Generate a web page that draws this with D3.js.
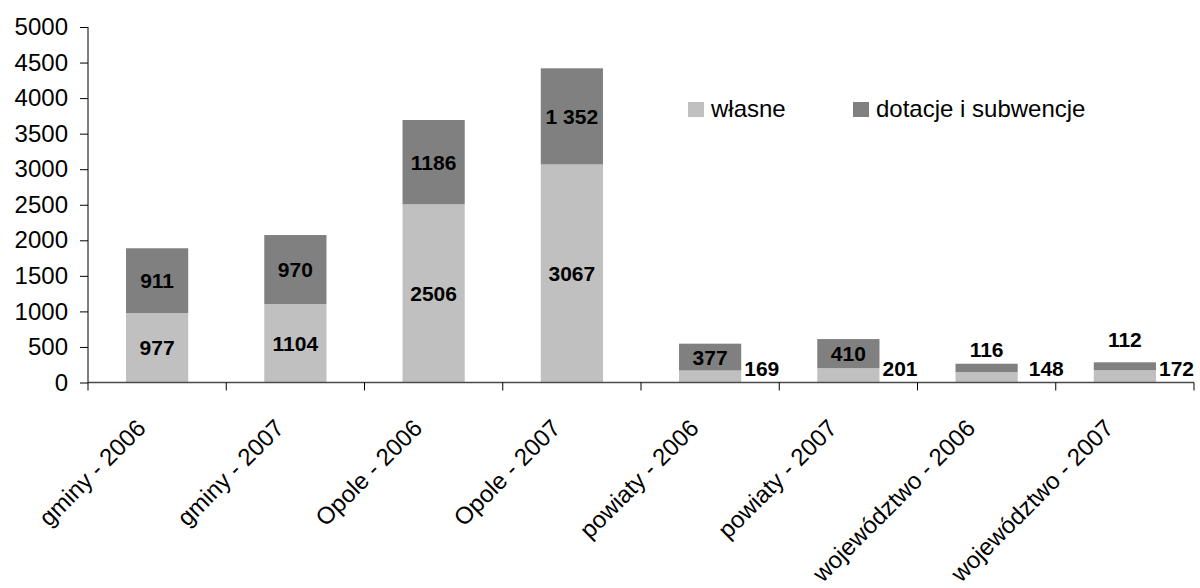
<!DOCTYPE html>
<html>
<head>
<meta charset="utf-8">
<script src="https://cdn.jsdelivr.net/npm/d3@7/dist/d3.min.js"></script>
<style>
  html, body { margin: 0; padding: 0; background: #fff; }
  svg { display: block; font-family: "Liberation Sans", Arial, sans-serif; }
</style>
</head>
<body>
<svg id="chart" width="1200" height="588"></svg>
<script>
// Dochody budżetów JST (mln zł): własne oraz dotacje i subwencje
const categories = [
  "gminy - 2006", "gminy - 2007", "Opole - 2006", "Opole - 2007",
  "powiaty - 2006", "powiaty - 2007", "województwo - 2006", "województwo - 2007"
];
const wlasne = [977, 1104, 2506, 3067, 169, 201, 148, 172];
const dotacje = [911, 970, 1186, 1352, 377, 410, 116, 112];
const dotacjeLabels = ["911", "970", "1186", "1 352", "377", "410", "116", "112"];
const seriesNames = ["własne", "dotacje i subwencje"];
const yTicks = [0, 500, 1000, 1500, 2000, 2500, 3000, 3500, 4000, 4500, 5000];

const colors = { wlasne: "#c0c0c0", dotacje: "#808080" };

const svg = d3.select("#chart");
const plot = { left: 88, right: 1194, top: 27, bottom: 382.5 };

const x = d3.scaleBand()
  .domain(categories)
  .range([plot.left, plot.right])
  .paddingInner(0.55)
  .paddingOuter(0.275);

const y = d3.scaleLinear()
  .domain([0, 5000])
  .range([plot.bottom, plot.top]);

const rows = categories.map((c, i) => ({ cat: c, wlasne: wlasne[i], dotacje: dotacje[i], label: dotacjeLabels[i] }));
const stack = d3.stack().keys(["wlasne", "dotacje"])(rows);

// stacked bars
svg.append("g").selectAll("g")
  .data(stack)
  .join("g")
  .attr("fill", d => colors[d.key])
  .selectAll("rect")
  .data(d => d)
  .join("rect")
  .attr("x", d => x(d.data.cat))
  .attr("width", x.bandwidth())
  .attr("y", d => y(d[1]))
  .attr("height", d => y(d[0]) - y(d[1]));

// y axis
const yAxis = svg.append("g")
  .attr("transform", `translate(${plot.left},0)`)
  .call(d3.axisLeft(y).tickValues(yTicks).tickSize(8).tickPadding(12).tickFormat(d3.format("d")));
yAxis.select(".domain").attr("stroke", "#000").attr("d", `M0,${plot.top}V${plot.bottom}`);
yAxis.selectAll(".tick line").attr("stroke", "#000");
yAxis.selectAll(".tick text")
  .attr("fill", "#000")
  .style("font-size", "24px")
  .style("font-family", "'Liberation Sans', Arial, sans-serif");

// x axis: ticks between categories
const xg = svg.append("g");
xg.append("line")
  .attr("x1", plot.left).attr("x2", plot.right)
  .attr("y1", plot.bottom).attr("y2", plot.bottom)
  .attr("stroke", "#4a4a4a").attr("stroke-width", 1.5);
const step = x.step();
const boundaries = d3.range(categories.length + 1).map(i => plot.left + i * step);
xg.selectAll("line.tick")
  .data(boundaries)
  .join("line")
  .attr("class", "tick")
  .attr("x1", d => d).attr("x2", d => d)
  .attr("y1", plot.bottom).attr("y2", plot.bottom + 8)
  .attr("stroke", "#000");

xg.selectAll("text.cat")
  .data(categories)
  .join("text")
  .attr("class", "cat")
  .attr("text-anchor", "end")
  .attr("transform", d => `translate(${x(d) + x.bandwidth() / 2 - 10},${plot.bottom + 47}) rotate(-45)`)
  .style("font-size", "24px")
  .attr("fill", "#000")
  .text(d => d);

// value labels
const labelFont = "21px";
const bw = x.bandwidth();
const smallLimit = 250; // segments too short to hold a label
const nudge = { "województwo - 2006": { dx: 8, dy: 0 }, "województwo - 2007": { dx: 0, dy: -8 } };

const labels = svg.append("g")
  .style("font-size", labelFont)
  .style("font-weight", "bold")
  .attr("fill", "#000");

rows.forEach(r => {
  const cx = x(r.cat) + bw / 2;
  const n = nudge[r.cat] || { dx: 0, dy: 0 };
  // własne
  if (r.wlasne >= smallLimit) {
    labels.append("text")
      .attr("x", cx).attr("y", y(r.wlasne / 2))
      .attr("text-anchor", "middle").attr("dominant-baseline", "central")
      .text(r.wlasne);
  } else {
    labels.append("text")
      .attr("x", x(r.cat) + bw + 3 + n.dx).attr("y", y(0) - 7)
      .attr("text-anchor", "start")
      .text(r.wlasne);
  }
  // dotacje
  if (r.dotacje >= smallLimit) {
    labels.append("text")
      .attr("x", cx).attr("y", y(r.wlasne + r.dotacje / 2))
      .attr("text-anchor", "middle").attr("dominant-baseline", "central")
      .text(r.label);
  } else {
    labels.append("text")
      .attr("x", cx).attr("y", y(r.wlasne + r.dotacje) - 7 + n.dy)
      .attr("text-anchor", "middle")
      .text(r.label);
  }
});

// legend
const legend = svg.append("g").style("font-size", "24px");
const legendItems = [
  { name: seriesNames[0], color: colors.wlasne, x: 688 },
  { name: seriesNames[1], color: colors.dotacje, x: 853 }
];
legendItems.forEach(it => {
  legend.append("rect")
    .attr("x", it.x).attr("y", 102)
    .attr("width", 16).attr("height", 15)
    .attr("fill", it.color);
  legend.append("text")
    .attr("x", it.x + 23).attr("y", 117)
    .attr("fill", "#000")
    .text(it.name);
});
</script>
</body>
</html>
